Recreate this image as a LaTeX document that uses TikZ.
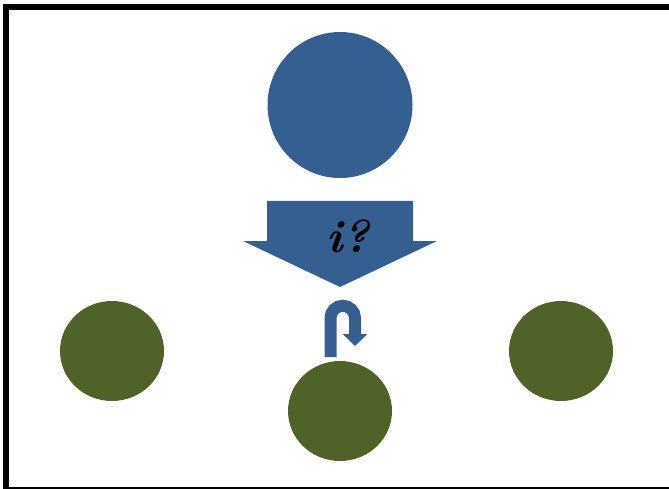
\documentclass[tikz,border=0pt]{standalone}
\usepackage{tikz}
\usetikzlibrary{positioning,shapes.geometric,arrows.meta}
\definecolor{topblue}{RGB}{54,95,145}
\definecolor{leafgreen}{RGB}{79,98,40}

\begin{document}
\begin{tikzpicture}[x=1pt,y=-1pt,
        topnode/.style={ellipse, fill=topblue, minimum width=145pt, minimum height=146pt, inner sep=0pt},
        leaf/.style={ellipse, fill=leafgreen, minimum width=104pt, minimum height=100pt, inner sep=0pt},
        uturn/.style={draw=topblue, line width=12pt, -{Triangle[width=24pt,length=12pt]}}
      ]
        \useasboundingbox (0,0) rectangle (669,489);
        \clip (0,0) rectangle (669,489);
        \draw[line width=6pt] (6,7) rectangle (690,490);
        % nodes
        \node[topnode] (root) at (340,105) {};
        \node[leaf] (left) at (112,351) {};
        \node[leaf] (mid) at (340,411) {};
        \node[leaf] (right) at (561,351) {};
        % big down arrow
        \fill[topblue] (267,201) -- (413,201) -- (413,241) -- (437,241)
              -- (340,287) -- (243,241) -- (267,241) -- cycle;
        \node[font=\fontsize{46}{46}\selectfont\bfseries\itshape] (ask) at (348,236) {i?};
        % u-turn arrow
        \coordinate (ubase) at (330.5,357);
        \draw[uturn] (ubase) -- (330.5,318) arc (180:360:12.25) -- (355,346);
\end{tikzpicture}
\end{document}
